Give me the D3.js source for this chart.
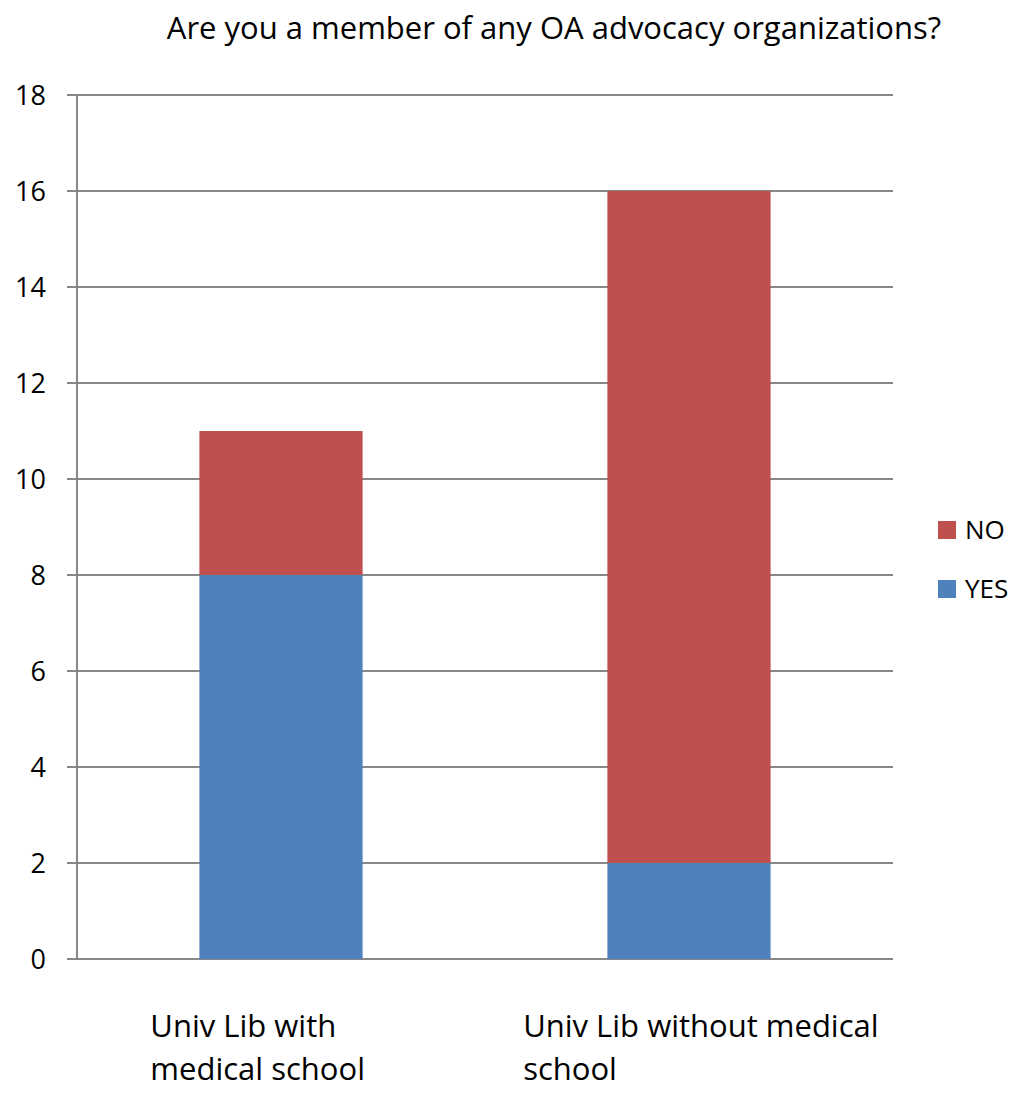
<!DOCTYPE html>
<html>
<head>
<meta charset="utf-8">
<script src="https://cdn.jsdelivr.net/npm/d3@7"></script>
<style>
  body { margin: 0; background: #fff; }
  text { font-family: 'Open Sans', sans-serif; fill: #000; }
</style>
</head>
<body>
<script>
// chart data
const categories = [["Univ Lib with", "medical school"], ["Univ Lib without medical", "school"]];
const seriesNames = ["YES", "NO"];
const yesValues = [8, 2];
const noValues = [3, 14];
const yTicks = [0, 2, 4, 6, 8, 10, 12, 14, 16, 18];
const colours = { YES: "#4F81BD", NO: "#C0504D" };

const width = 1024, height = 1095;
const margin = { top: 95, right: 131, bottom: 136, left: 77 };

const svg = d3.select("body").append("svg")
  .attr("width", width)
  .attr("height", height);

// title
svg.append("text")
  .attr("x", 554)
  .attr("y", 39)
  .attr("text-anchor", "middle")
  .style("font-size", "31px")
  .text("Are you a member of any OA advocacy organizations?");

const x = d3.scaleBand()
  .domain(d3.range(categories.length))
  .range([margin.left, width - margin.right])
  .paddingInner(0.6)
  .paddingOuter(0.3);

const y = d3.scaleLinear()
  .domain([0, 18])
  .range([height - margin.bottom, margin.top]);

// gridlines
svg.append("g")
  .selectAll("line")
  .data(yTicks)
  .join("line")
  .attr("x1", margin.left - 10)
  .attr("x2", width - margin.right)
  .attr("y1", d => y(d))
  .attr("y2", d => y(d))
  .attr("stroke", "#888")
  .attr("stroke-width", 2);

// stacked bars
const table = categories.map((c, i) => ({ i, YES: yesValues[i], NO: noValues[i] }));
const stacked = d3.stack().keys(seriesNames)(table);

svg.append("g")
  .selectAll("g")
  .data(stacked)
  .join("g")
  .attr("fill", d => colours[d.key])
  .selectAll("rect")
  .data(d => d)
  .join("rect")
  .attr("x", d => x(d.data.i))
  .attr("width", x.bandwidth())
  .attr("y", d => y(d[1]))
  .attr("height", d => y(d[0]) - y(d[1]));

// y axis line
svg.append("line")
  .attr("x1", margin.left)
  .attr("x2", margin.left)
  .attr("y1", y(18))
  .attr("y2", y(0))
  .attr("stroke", "#888")
  .attr("stroke-width", 2);

// y tick labels
svg.append("g")
  .selectAll("text")
  .data(yTicks)
  .join("text")
  .attr("x", 46)
  .attr("y", d => y(d))
  .attr("dy", "0.36em")
  .attr("text-anchor", "end")
  .style("font-size", "27px")
  .text(d => d);

// category labels, wrapped and left aligned
categories.forEach((lines, i) => {
  const t = svg.append("text")
    .style("font-size", "31px");
  lines.forEach((l, j) => {
    t.append("tspan")
      .attr("x", 0)
      .attr("y", 1037 + j * 43)
      .text(l);
  });
  const w = t.node().getBBox().width;
  const cx = x(i) + x.bandwidth() / 2;
  t.selectAll("tspan").attr("x", cx - w * 0.25 - 77);
});

// legend
const legend = svg.append("g")
  .selectAll("g")
  .data(["NO", "YES"])
  .join("g")
  .attr("transform", (d, i) => `translate(938, ${521 + i * 59})`);

legend.append("rect")
  .attr("width", 18)
  .attr("height", 18)
  .attr("fill", d => colours[d]);

legend.append("text")
  .attr("x", 27)
  .attr("y", 9)
  .attr("dy", "0.36em")
  .style("font-size", "26px")
  .text(d => d);
</script>
</body>
</html>
